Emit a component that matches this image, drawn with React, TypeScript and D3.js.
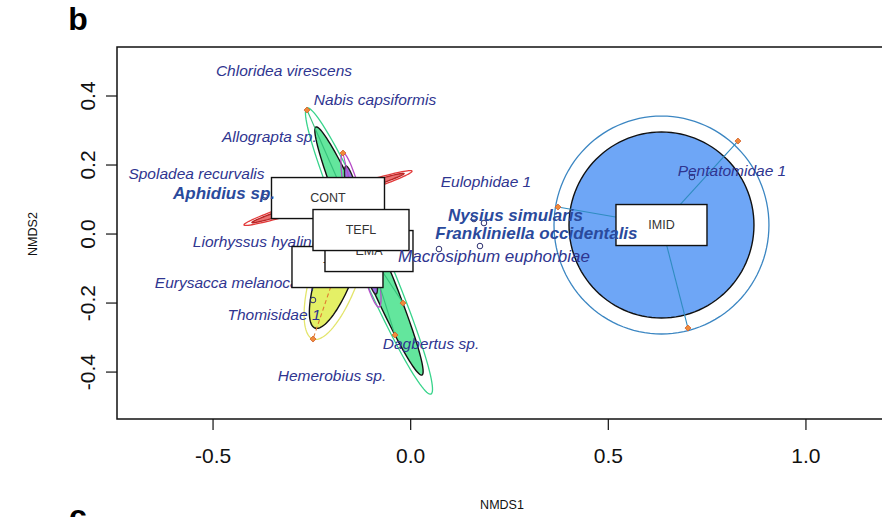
import React from "react";
import * as d3 from "d3";

// ---------- data ----------
const xTicks = [-0.5, 0, 0.5, 1.0];
const yTicks = [-0.4, -0.2, 0, 0.2, 0.4];

const speciesNames = [
  "Chloridea virescens",
  "Nabis capsiformis",
  "Allograpta sp.",
  "Spoladea recurvalis",
  "Aphidius sp.",
  "Liorhyssus hyalinus",
  "Eurysacca melanocampta",
  "Thomisidae 1",
  "Dagbertus sp.",
  "Hemerobius sp.",
  "Eulophidae 1",
  "Nysius simularis",
  "Frankliniella occidentalis",
  "Macrosiphum euphorbiae",
  "Pentatomidae 1",
];
const speciesX = [-0.3205, -0.0903, -0.3574, -0.5419, -0.4723, -0.38, -0.4217, -0.3458, 0.0513, -0.1991, 0.1905, 0.2651, 0.3182, 0.2107, 0.8128];
const speciesY = [0.4723, 0.3883, 0.2811, 0.1739, 0.1188, -0.0232, -0.142, -0.2347, -0.3187, -0.4114, 0.1507, 0.0551, 0.0029, -0.0637, 0.1826];

const speciesPointX = [0.1601, 0.1854, 0.0716, 0.1753, 0.7116, -0.2471, -0.3686];
const speciesPointY = [0.0435, 0.0319, -0.0435, -0.0348, 0.1652, -0.1912, 0.1072];

const groups = ["CONT", "TEFL", "EMA", "THIA", "IMID"];
const centroidX = [-0.2092, -0.1257, -0.1055, -0.1852, 0.6345];
const centroidY = [0.1043, 0.0116, -0.0493, -0.0956, 0.0261];
// ellipse major-axis tips and minor semi-axes (data units)
const outerTipX = [0.0033, -0.1713, -0.2623, -0.2471, 0.9064];
const outerTipY = [0.1823, 0.2347, 0.3651, -0.3043, 0.0261];
const outerMinor = [0.0139, 0.0228, 0.0385, 0.0607, 0.2757];
const innerTipX = [-0.0169, -0.1637, -0.2396, -0.2421, 0.8685];
const innerTipY = [0.1753, 0.197, 0.3101, -0.2724, 0.0261];
const innerMinor = [0.0089, 0.0177, 0.0304, 0.0455, 0.2353];

const siteGroup = ["TEFL", "EMA", "EMA", "EMA", "THIA", "IMID", "IMID", "IMID"];
const siteX = [-0.1713, -0.2623, -0.0195, -0.0397, -0.2471, 0.3726, 0.828, 0.7015];
const siteY = [0.2347, 0.3593, -0.2, -0.2927, -0.3043, 0.0782, 0.2695, -0.2724];

// ---------- styles ----------
const boldSpecies = new Set(["Aphidius sp.", "Nysius simularis", "Frankliniella occidentalis"]);
const largeSpecies = new Set(["Aphidius sp.", "Nysius simularis", "Frankliniella occidentalis", "Macrosiphum euphorbiae"]);

const groupStyle: Record<string, any> = {
  CONT: { fill: "#ea7373", inner: "#b82626", outer: "#e33a3a", spider: null, dash: null, boxW: 113 },
  TEFL: { fill: "#9c70e6", inner: "#222", outer: "#b64cc8", spider: "#b64cc8", dash: null, boxW: 96 },
  EMA: { fill: "#63e69d", inner: "#111", outer: "#38d48b", spider: "#35c07a", dash: null, boxW: 88 },
  THIA: { fill: "#e4f066", inner: "#111", outer: "#e3e56c", spider: "#e07a30", dash: "4,3", boxW: 91 },
  IMID: { fill: "#6ea6f6", inner: "#111", outer: "#3b86c2", spider: "#2f8cc0", dash: null, boxW: 91 },
};
const boxH = 41;
const labelFont = "'Liberation Sans', Arial, sans-serif";
const narrowFont = "'Liberation Sans Narrow', 'Arial Narrow', 'Liberation Sans', Arial, sans-serif";

const W = 882;
const H = 517;
const plotLeft = 117;
const plotRight = 885;
const plotTop = 47;
const plotBottom = 419;

export default function App() {
  const x = d3.scaleLinear().domain([-0.743, 1.2]).range([plotLeft, plotRight]);
  const y = d3.scaleLinear().domain([-0.536, 0.542]).range([plotBottom, plotTop]);
  const unit = x(1) - x(0);

  const ellipsePath = (cx: number, cy: number, tx: number, ty: number, minor: number) => {
    const c = [x(cx), y(cy)];
    const t = [x(tx), y(ty)];
    const ux = t[0] - c[0];
    const uy = t[1] - c[1];
    const a = Math.hypot(ux, uy);
    const e1 = [ux / a, uy / a];
    const e2 = [-e1[1], e1[0]];
    const b = minor * unit;
    const pts: [number, number][] = d3.range(0, 360, 3).map((deg) => {
      const th = (deg * Math.PI) / 180;
      return [
        c[0] + a * Math.cos(th) * e1[0] + b * Math.sin(th) * e2[0],
        c[1] + a * Math.cos(th) * e1[1] + b * Math.sin(th) * e2[1],
      ];
    });
    return d3.line().curve(d3.curveLinearClosed)(pts) || "";
  };

  const drawOrder = ["IMID", "EMA", "THIA", "TEFL", "CONT"];

  const box = (g: string) => {
    const i = groups.indexOf(g);
    const st = groupStyle[g];
    const cx = x(centroidX[i]);
    const cy = y(centroidY[i]);
    return (
      <g key={"box" + g}>
        <rect x={cx - st.boxW / 2} y={cy - boxH / 2} width={st.boxW} height={boxH} fill="#fff" stroke="#111" strokeWidth={1.4} />
        <text x={cx} y={cy} dy="0.35em" textAnchor="middle" fontFamily={labelFont} fontSize={12.5} fill="#333">
          {g}
        </text>
      </g>
    );
  };

  const label = (name: string, k: number) => (
    <text
      key={name}
      x={x(speciesX[k])}
      y={y(speciesY[k])}
      dy="0.35em"
      textAnchor="middle"
      fontFamily={labelFont}
      fontStyle="italic"
      fontWeight={boldSpecies.has(name) ? 700 : 400}
      fontSize={largeSpecies.has(name) ? 17 : 15.5}
      fill={boldSpecies.has(name) ? "#2a4a9c" : "#2f3590"}
    >
      {name}
    </text>
  );

  return (
    <svg width={W} height={H} style={{ position: "absolute", left: 0, top: 0, background: "#fff" }}>
      <rect x={0} y={0} width={W} height={H} fill="#fff" />
      <defs>
        <clipPath id="plotclip">
          <rect x={plotLeft} y={plotTop} width={plotRight - plotLeft} height={plotBottom - plotTop} />
        </clipPath>
      </defs>

      <g clipPath="url(#plotclip)">
        {drawOrder.map((g) => {
          const i = groups.indexOf(g);
          const st = groupStyle[g];
          return (
            <g key={g}>
              <path
                d={ellipsePath(centroidX[i], centroidY[i], innerTipX[i], innerTipY[i], innerMinor[i])}
                fill={st.fill}
                stroke={st.inner}
                strokeWidth={1.4}
              />
              <path
                d={ellipsePath(centroidX[i], centroidY[i], outerTipX[i], outerTipY[i], outerMinor[i])}
                fill="none"
                stroke={st.outer}
                strokeWidth={1.3}
              />
            </g>
          );
        })}

        {siteX.map((sx, k) => {
          const g = siteGroup[k];
          const i = groups.indexOf(g);
          const st = groupStyle[g];
          if (!st.spider) return null;
          return (
            <line
              key={"sp" + k}
              x1={x(centroidX[i])}
              y1={y(centroidY[i])}
              x2={x(sx)}
              y2={y(siteY[k])}
              stroke={st.spider}
              strokeWidth={1.1}
              strokeDasharray={st.dash || undefined}
            />
          );
        })}

        {siteX.map((sx, k) => {
          const cx = x(sx);
          const cy = y(siteY[k]);
          const r = 3;
          return (
            <path
              key={"site" + k}
              d={`M${cx},${cy - r}L${cx + r},${cy}L${cx},${cy + r}L${cx - r},${cy}Z`}
              fill="#f08a3a"
              stroke="#d2602a"
              strokeWidth={0.8}
            />
          );
        })}

        {speciesPointX.map((px, k) => (
          <circle key={"pt" + k} cx={x(px)} cy={y(speciesPointY[k])} r={2.8} fill="none" stroke="#2b2f6e" strokeWidth={1} />
        ))}

        {box("IMID")}

        {speciesNames.map((name, k) => (largeSpecies.has(name) ? null : label(name, k)))}

        {["CONT", "THIA", "EMA", "TEFL"].map((g) => box(g))}

        {speciesNames.map((name, k) => (largeSpecies.has(name) ? label(name, k) : null))}
      </g>

      {/* plot box */}
      <rect x={plotLeft} y={plotTop} width={plotRight - plotLeft} height={plotBottom - plotTop} fill="none" stroke="#111" strokeWidth={1.5} />

      {/* x axis */}
      {xTicks.map((t) => (
        <g key={"xt" + t}>
          <line x1={x(t)} x2={x(t)} y1={plotBottom} y2={plotBottom + 11} stroke="#111" strokeWidth={1.2} />
          <text x={x(t)} y={456} dy="0.35em" textAnchor="middle" fontFamily={narrowFont} fontSize={21} fill="#111">
            {d3.format(".1f")(t).replace("−", "-")}
          </text>
        </g>
      ))}
      {/* y axis */}
      {yTicks.map((t) => (
        <g key={"yt" + t}>
          <line x1={plotLeft - 11} x2={plotLeft} y1={y(t)} y2={y(t)} stroke="#111" strokeWidth={1.2} />
          <text
            transform={`translate(88,${y(t)}) rotate(-90)`}
            dy="0.35em"
            textAnchor="middle"
            fontFamily={narrowFont}
            fontSize={21}
            fill="#111"
          >
            {d3.format(".1f")(t).replace("−", "-")}
          </text>
        </g>
      ))}

      <text x={502} y={505} dy="0.35em" textAnchor="middle" fontFamily={narrowFont} fontSize={12.5} fill="#111">
        NMDS1
      </text>
      <text transform={`translate(33,${y(0)}) rotate(-90)`} dy="0.35em" textAnchor="middle" fontFamily={narrowFont} fontSize={12.5} fill="#111">
        NMDS2
      </text>

      <text x={78} y={30} textAnchor="middle" fontFamily={labelFont} fontWeight={900} fontSize={32} fill="#000">
        b
      </text>
      <text x={78} y={527} textAnchor="middle" fontFamily={labelFont} fontWeight={900} fontSize={32} fill="#000">
        c
      </text>
    </svg>
  );
}
